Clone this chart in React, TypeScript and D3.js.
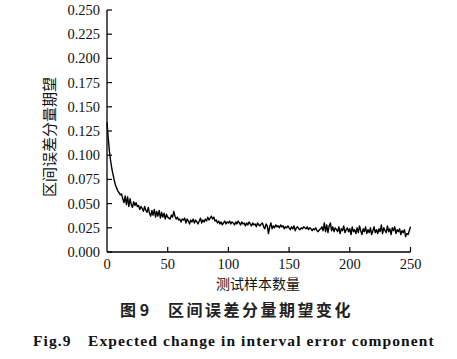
import React from "react";
import * as d3 from "d3";

// 区间误差分量期望 per test sample (0..250)
const errValues = [
  0.134, 0.118, 0.104, 0.094, 0.086, 0.080, 0.074, 0.069, 0.066, 0.063,
  0.061, 0.059, 0.060, 0.055, 0.051, 0.058, 0.049, 0.057, 0.047, 0.055,
  0.049, 0.046, 0.052, 0.048, 0.051, 0.047, 0.048, 0.044, 0.047, 0.045,
  0.042, 0.047, 0.043, 0.041, 0.046, 0.040, 0.037, 0.043, 0.038, 0.044,
  0.036, 0.042, 0.037, 0.043, 0.035, 0.041, 0.036, 0.040, 0.034, 0.039,
  0.036, 0.035, 0.034, 0.038, 0.036, 0.042, 0.037, 0.034, 0.036, 0.033,
  0.034, 0.031, 0.034, 0.033, 0.035, 0.030, 0.034, 0.032, 0.029, 0.033,
  0.031, 0.034, 0.030, 0.033, 0.031, 0.029, 0.032, 0.035, 0.030, 0.033,
  0.031, 0.034, 0.032, 0.036, 0.033, 0.035, 0.037, 0.034, 0.036, 0.032,
  0.033, 0.030, 0.032, 0.029, 0.031, 0.028, 0.030, 0.032, 0.029, 0.031,
  0.030, 0.032, 0.029, 0.031, 0.030, 0.028, 0.031, 0.029, 0.032, 0.030,
  0.028, 0.031, 0.029, 0.030, 0.027, 0.030, 0.028, 0.031, 0.029, 0.027,
  0.030, 0.028, 0.029, 0.026, 0.030, 0.028, 0.027, 0.029, 0.030, 0.026,
  0.024, 0.029, 0.027, 0.019, 0.026, 0.030, 0.024, 0.027, 0.025, 0.028,
  0.026, 0.027, 0.025, 0.028, 0.026, 0.027, 0.024, 0.026, 0.025, 0.027,
  0.025, 0.023, 0.026, 0.024, 0.027, 0.022, 0.025, 0.026, 0.024, 0.023,
  0.025, 0.024, 0.026, 0.025, 0.024, 0.026, 0.023, 0.025, 0.024, 0.022,
  0.024, 0.023, 0.025, 0.022, 0.021, 0.023, 0.024, 0.026, 0.022, 0.030,
  0.021, 0.028, 0.020, 0.027, 0.030, 0.022, 0.026, 0.021, 0.025, 0.023,
  0.021, 0.026, 0.019, 0.024, 0.022, 0.027, 0.020, 0.023, 0.025, 0.021,
  0.024, 0.018, 0.026, 0.021, 0.023, 0.019, 0.025, 0.020, 0.027, 0.022,
  0.018, 0.024, 0.021, 0.026, 0.019, 0.023, 0.020, 0.025, 0.018, 0.022,
  0.026, 0.020, 0.023, 0.019, 0.024, 0.021, 0.028, 0.019, 0.025, 0.022,
  0.020, 0.027, 0.021, 0.024, 0.018, 0.025, 0.022, 0.026, 0.019, 0.023,
  0.021, 0.024, 0.018, 0.022, 0.020, 0.023, 0.016, 0.019, 0.018, 0.022,
  0.026,
];

const xTicks = [0, 50, 100, 150, 200, 250];
const yTicks = [0, 0.025, 0.05, 0.075, 0.1, 0.125, 0.15, 0.175, 0.2, 0.225, 0.25];

const yTitle = "区间误差分量期望";
const xTitle = "测试样本数量";
const captionCn = ["图 9", "区间误差分量期望变化"];
const captionEn = ["Fig.9", "Expected change in interval error component"];

const serif = "'Liberation Serif', 'Times New Roman', serif";
const cjk = "'Noto Sans CJK SC', sans-serif";

export default function App() {
  const x = d3.scaleLinear().domain([0, 250]).range([107, 410.5]);
  const y = d3.scaleLinear().domain([0, 0.25]).range([252, 10]);

  const line = d3
    .line<number>()
    .x((_, i) => x(i))
    .y((d) => y(d));

  return (
    <svg
      width={457}
      height={359}
      style={{ position: "absolute", left: 0, top: 0, background: "#fff" }}
    >
      {/* axes */}
      <line x1={x(0)} x2={x(0)} y1={y(0)} y2={y(0.25)} stroke="#000" strokeWidth={1.3} />
      <line x1={x(0)} x2={x(250)} y1={y(0)} y2={y(0)} stroke="#000" strokeWidth={1.3} />

      {yTicks.map((t) => (
        <g key={"y" + t}>
          <line x1={x(0)} x2={x(0) + 5} y1={y(t)} y2={y(t)} stroke="#000" strokeWidth={1.2} />
          <text
            x={x(0) - 7}
            y={y(t)}
            textAnchor="end"
            dominantBaseline="central"
            fontFamily={serif}
            fontSize={14.5}
            fill="#111"
          >
            {d3.format(".3f")(t)}
          </text>
        </g>
      ))}

      {xTicks.map((t) => (
        <g key={"x" + t}>
          {t > 0 && (
            <line x1={x(t)} x2={x(t)} y1={y(0)} y2={y(0) - 5} stroke="#000" strokeWidth={1.2} />
          )}
          <text
            x={x(t)}
            y={y(0) + 17}
            textAnchor="middle"
            fontFamily={serif}
            fontSize={14.5}
            fill="#111"
          >
            {t}
          </text>
        </g>
      ))}

      <path
        d={line(errValues) ?? ""}
        fill="none"
        stroke="#000"
        strokeWidth={1.4}
        strokeLinejoin="round"
      />

      <text
        transform="translate(48,137) rotate(-90)"
        textAnchor="middle"
        dominantBaseline="central"
        fontFamily={cjk}
        fontSize={15}
        fill="#111"
      >
        {yTitle}
      </text>

      <text x={258} y={289} textAnchor="middle" fontFamily={cjk} fontSize={14} fill="#111">
        {xTitle}
      </text>

      <text x={120} y={316} fontFamily={cjk} fontSize={16} fontWeight="bold" fill="#222">
        {captionCn[0]}
      </text>
      <text
        x={168}
        y={316}
        fontFamily={cjk}
        fontSize={16}
        fontWeight="bold"
        letterSpacing={2.5}
        fill="#222"
      >
        {captionCn[1]}
      </text>

      <text
        x={33}
        y={346}
        fontFamily={serif}
        fontSize={15.5}
        fontWeight="bold"
        letterSpacing={1.1}
        fill="#111"
      >
        {captionEn[0]}
      </text>
      <text
        x={88}
        y={346}
        fontFamily={serif}
        fontSize={15.5}
        fontWeight="bold"
        letterSpacing={1.1}
        fill="#111"
      >
        {captionEn[1]}
      </text>
    </svg>
  );
}
